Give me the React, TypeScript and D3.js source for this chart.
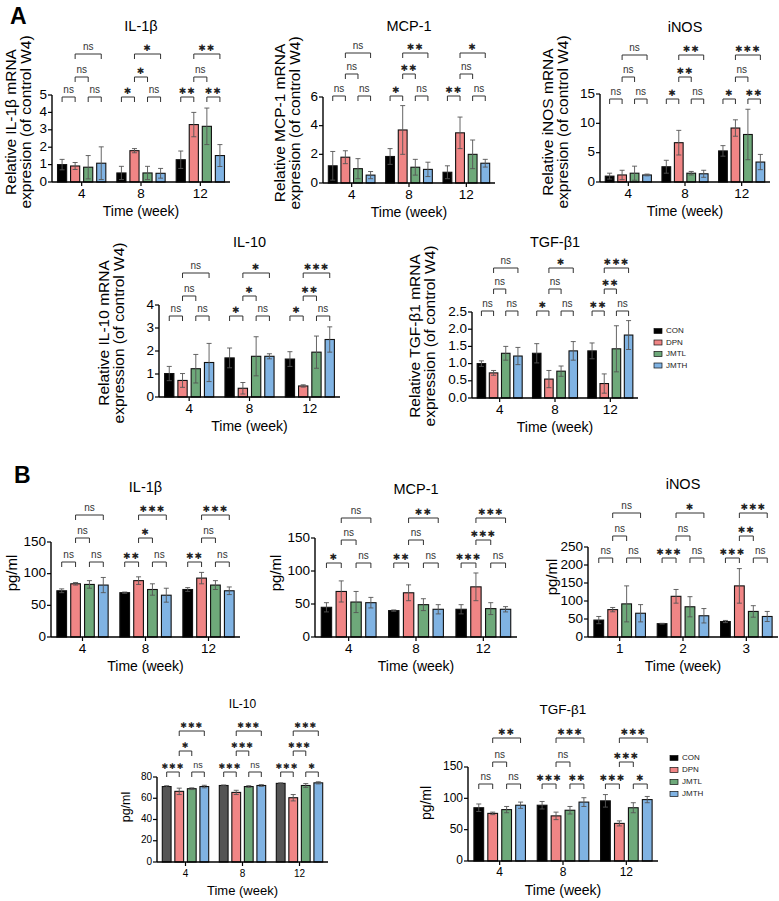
import React from "react";
import * as d3 from "d3";

const SERIES = ["CON", "DPN", "JMTL", "JMTH"];
const COLORS = ["#000000", "#F08585", "#6EA97A", "#80B3E3"];
const WEEKS = ["4", "8", "12"];
const WEEKS_B3 = ["1", "2", "3"];

// ---- Panel A (mRNA, relative to control W4) ----
const A_IL1B_MEAN = [[1.0, 0.92, 0.85, 1.08], [0.52, 1.8, 0.52, 0.5], [1.28, 3.3, 3.2, 1.52]];
const A_IL1B_SD = [[0.3, 0.2, 0.67, 0.94], [0.38, 0.12, 0.38, 0.28], [0.5, 0.7, 1.05, 0.63]];
const A_IL1B_SIG = [["ns", "ns", "ns", "ns"], ["*", "ns", "*", "*"], ["**", "**", "ns", "**"]];

const A_MCP1_MEAN = [[1.2, 1.8, 1.0, 0.55], [1.85, 3.7, 1.1, 0.95], [0.75, 3.5, 2.0, 1.38]];
const A_MCP1_SD = [[1.0, 0.45, 0.7, 0.25], [0.55, 1.7, 0.55, 0.5], [0.45, 1.1, 1.0, 0.27]];
const A_MCP1_SIG = [["ns", "ns", "ns", "ns"], ["*", "ns", "**", "**"], ["**", "ns", "ns", "*"]];

const A_INOS_MEAN = [[1.0, 1.2, 1.5, 1.2], [2.6, 6.7, 1.5, 1.4], [5.3, 9.2, 8.1, 3.4]];
const A_INOS_SD = [[0.5, 0.8, 1.2, 0.15], [1.1, 2.1, 0.3, 0.6], [0.9, 1.4, 4.3, 1.3]];
const A_INOS_SIG = [["ns", "ns", "ns", "ns"], ["*", "ns", "**", "**"], ["*", "**", "ns", "***"]];

const A_IL10_MEAN = [[1.02, 0.72, 1.23, 1.5], [1.7, 0.38, 1.77, 1.77], [1.65, 0.48, 1.95, 2.5]];
const A_IL10_SD = [[0.31, 0.3, 0.62, 0.83], [0.43, 0.25, 0.85, 0.11], [0.32, 0.05, 0.7, 0.55]];
const A_IL10_SIG = [["ns", "ns", "ns", "ns"], ["*", "ns", "*", "*"], ["*", "ns", "**", "***"]];

const A_TGF_MEAN = [[1.0, 0.73, 1.3, 1.22], [1.3, 0.55, 0.78, 1.37], [1.37, 0.42, 1.43, 1.83]];
const A_TGF_SD = [[0.08, 0.07, 0.2, 0.25], [0.28, 0.25, 0.15, 0.27], [0.23, 0.28, 0.67, 0.42]];
const A_TGF_SIG = [["ns", "ns", "ns", "ns"], ["*", "ns", "ns", "*"], ["**", "ns", "**", "***"]];

// ---- Panel B (pg/ml) ----
const B_IL1B_MEAN = [[73, 84, 83, 82], [70, 89, 75, 66], [75, 93, 82, 73]];
const B_IL1B_SD = [[3, 2, 6, 12], [1, 6, 9, 11], [3, 9, 7, 6]];
const B_IL1B_SIG = [["ns", "ns", "ns", "ns"], ["**", "ns", "*", "***"], ["**", "ns", "ns", "***"]];

const B_MCP1_MEAN = [[45, 69, 53, 52], [40, 67, 49, 42], [42, 76, 43, 42]];
const B_MCP1_SD = [[7, 16, 16, 8], [1, 12, 9, 7], [7, 21, 9, 4]];
const B_MCP1_SIG = [["*", "ns", "ns", "ns"], ["**", "ns", "ns", "**"], ["***", "ns", "***", "***"]];

const B_INOS_MEAN = [[47, 76, 92, 66], [37, 113, 84, 59], [43, 142, 71, 57]];
const B_INOS_SD = [[10, 6, 50, 24], [1, 19, 28, 20], [3, 48, 16, 14]];
const B_INOS_SIG = [["ns", "ns", "ns", "ns"], ["***", "ns", "ns", "*"], ["***", "ns", "**", "***"]];

const B_IL10_MEAN = [[71, 66.5, 69, 71], [72, 65.5, 71, 72], [74, 60.5, 72, 74.5]];
const B_IL10_SD = [[0.8, 3, 0.8, 1.2], [0.5, 2, 0.8, 0.8], [0.5, 3, 1.8, 1]];
const B_IL10_SIG = [["***", "ns", "*", "***"], ["***", "ns", "***", "***"], ["***", "*", "***", "***"]];

const B_TGF_MEAN = [[85, 76, 82, 89], [89, 72, 81, 94], [96, 60, 85, 98]];
const B_TGF_SD = [[6, 2, 5, 5], [6, 6, 6, 7], [10, 4, 8, 5]];
const B_TGF_SIG = [["ns", "ns", "ns", "**"], ["***", "**", "ns", "***"], ["***", "*", "***", "***"]];

const FONT = "'Liberation Sans', Arial, Helvetica, sans-serif";

type Cfg = {
  title: string;
  groups: string[];
  mean: number[][];
  sd: number[][];
  sig: string[][];
  max: number;
  ticks: number[];
  fmt?: (v: number) => string;
  left: number;
  right: number;
  top: number;
  bottom: number;
  titleY: number;
  ylabel: string[];
  ylabelX: number[];
  ylabelY: number;
  levels: number[];
  fs: { tick: number; title: number; ylab: number; time: number; ns: number; star: number };
  conColor?: string;
};

function SigLabel({ x, y, text, fs }: { x: number; y: number; text: string; fs: Cfg["fs"] }) {
  if (text === "ns") {
    return (
      <text x={x} y={y} textAnchor="middle" fontSize={fs.ns} fill="#333" fontFamily={FONT}>
        ns
      </text>
    );
  }
  return (
    <text x={x} y={y + 1} textAnchor="middle" fontSize={fs.star} fill="#222" fontFamily="'DejaVu Sans', sans-serif" letterSpacing={1}>
      {text.replace(/\*/g, "\u2731")}
    </text>
  );
}

function Panel({ c }: { c: Cfg }) {
  const x0 = d3.scaleBand<string>().domain(c.groups).range([c.left, c.right]).paddingInner(0.12).paddingOuter(0.06);
  const x1 = d3.scaleBand<string>().domain(SERIES).range([0, x0.bandwidth()]).paddingInner(0.3).paddingOuter(0.15);
  const y = d3.scaleLinear().domain([0, c.max]).range([c.bottom, c.top]);
  const fmt = c.fmt || ((v: number) => String(v));
  const bw = x1.bandwidth();
  const cx = (g: string, s: string) => (x0(g) as number) + (x1(s) as number) + bw / 2;
  const midX = (c.left + c.right) / 2;
  const pairs: [number, number][] = [[0, 1], [2, 3], [1, 2], [1, 3]];
  const lvl = [0, 0, 1, 2];
  return (
    <g>
      <text x={midX} y={c.titleY} textAnchor="middle" dominantBaseline="middle" fontSize={c.fs.title} fontFamily={FONT}>
        {c.title}
      </text>
      {c.ylabel.map((l, i) => (
        <text
          key={i}
          transform={`translate(${c.ylabelX[i]},${c.ylabelY}) rotate(-90)`}
          textAnchor="middle"
          dominantBaseline="middle"
          fontSize={c.fs.ylab}
          fontFamily={FONT}
        >
          {l}
        </text>
      ))}
      {c.groups.map((g, gi) =>
        SERIES.map((s, si) => {
          const m = c.mean[gi][si];
          const sd = c.sd[gi][si];
          const xc = cx(g, s);
          const fill = si === 0 && c.conColor ? c.conColor : COLORS[si];
          return (
            <g key={g + s}>
              <rect x={xc - bw / 2} y={y(m)} width={bw} height={y(0) - y(m)} fill={fill} stroke="#111" strokeWidth={1.1} />
              <line x1={xc} x2={xc} y1={y(Math.max(0, m - sd))} y2={y(m + sd)} stroke="#555" strokeWidth={0.9} />
              <line x1={xc - 2.5} x2={xc + 2.5} y1={y(m + sd)} y2={y(m + sd)} stroke="#555" strokeWidth={0.9} />
              <line x1={xc - 2.5} x2={xc + 2.5} y1={y(Math.max(0, m - sd))} y2={y(Math.max(0, m - sd))} stroke="#555" strokeWidth={0.9} />
            </g>
          );
        })
      )}
      {/* axes */}
      <line x1={c.left} x2={c.left} y1={c.top} y2={c.bottom} stroke="#000" strokeWidth={1.4} />
      <line x1={c.left} x2={c.right} y1={c.bottom} y2={c.bottom} stroke="#000" strokeWidth={1.4} />
      {c.ticks.map((t) => (
        <g key={t}>
          <line x1={c.left - 4} x2={c.left} y1={y(t)} y2={y(t)} stroke="#000" strokeWidth={1.2} />
          <text x={c.left - 5} y={y(t)} textAnchor="end" dominantBaseline="middle" fontSize={c.fs.tick} fontFamily={FONT}>
            {fmt(t)}
          </text>
        </g>
      ))}
      {c.groups.map((g) => {
        const gx = (x0(g) as number) + x0.bandwidth() / 2;
        return (
          <g key={g}>
            <line x1={gx} x2={gx} y1={c.bottom} y2={c.bottom + 4} stroke="#000" strokeWidth={1.2} />
            <text x={gx} y={c.bottom + 12} textAnchor="middle" dominantBaseline="middle" fontSize={c.fs.tick} fontFamily={FONT}>
              {g}
            </text>
          </g>
        );
      })}
      <text x={midX} y={c.bottom + 30} textAnchor="middle" dominantBaseline="middle" fontSize={c.fs.time} fontFamily={FONT}>
        Time (week)
      </text>
      {/* significance brackets */}
      {c.groups.map((g, gi) =>
        pairs.map(([a, b], pi) => {
          const xa = cx(g, SERIES[a]);
          const xb = cx(g, SERIES[b]);
          const ly = c.levels[lvl[pi]];
          return (
            <g key={g + pi}>
              <path d={`M${xa},${ly + 5}V${ly}H${xb}V${ly + 5}`} fill="none" stroke="#333" strokeWidth={1} />
              <SigLabel x={(xa + xb) / 2} y={ly - 4} text={c.sig[gi][pi]} fs={c.fs} />
            </g>
          );
        })
      )}
    </g>
  );
}

function Legend({ x, y, step, fs }: { x: number; y: number; step: number; fs: number }) {
  return (
    <g>
      {SERIES.map((s, i) => (
        <g key={s}>
          <rect x={x} y={y + i * step - 2.5} width={8} height={5} fill={COLORS[i]} stroke="#111" strokeWidth={0.7} />
          <text x={x + 12} y={y + i * step} dominantBaseline="middle" fontSize={fs} fontFamily={FONT} fill="#222">
            {s}
          </text>
        </g>
      ))}
    </g>
  );
}

const fsA = { tick: 13.5, title: 14.5, ylab: 15.5, time: 14, ns: 10, star: 9 };
const fsB = { tick: 13.5, title: 14.5, ylab: 15, time: 14, ns: 10, star: 9 };
const fsB4 = { tick: 10, title: 12, ylab: 12.5, time: 13, ns: 9, star: 8 };
const fsB5 = { tick: 12, title: 13.5, ylab: 14, time: 14, ns: 10, star: 9 };
const dec1 = (v: number) => v.toFixed(1);

const PANELS: Cfg[] = [
  {
    title: "IL-1\u03b2", groups: WEEKS, mean: A_IL1B_MEAN, sd: A_IL1B_SD, sig: A_IL1B_SIG, max: 5, ticks: [0, 1, 2, 3, 4, 5],
    left: 52, right: 230, top: 95, bottom: 182, titleY: 27,
    ylabel: ["Relative IL-1\u03b2 mRNA", "expresion (of control W4)"], ylabelX: [12, 27], ylabelY: 122,
    levels: [97, 77, 54], fs: fsA,
  },
  {
    title: "MCP-1", groups: WEEKS, mean: A_MCP1_MEAN, sd: A_MCP1_SD, sig: A_MCP1_SIG, max: 6, ticks: [0, 2, 4, 6],
    left: 323, right: 495, top: 97, bottom: 183, titleY: 27,
    ylabel: ["Relative MCP-1 mRNA", "expresion (of control W4)"], ylabelX: [281, 296], ylabelY: 123,
    levels: [96, 74, 53], fs: fsA,
  },
  {
    title: "iNOS", groups: WEEKS, mean: A_INOS_MEAN, sd: A_INOS_SD, sig: A_INOS_SIG, max: 15, ticks: [0, 5, 10, 15],
    left: 600, right: 770, top: 94, bottom: 182, titleY: 28,
    ylabel: ["Relative iNOS mRNA", "expresion (of control W4)"], ylabelX: [549, 564], ylabelY: 122,
    levels: [99, 77, 55], fs: fsA,
  },
  {
    title: "IL-10", groups: WEEKS, mean: A_IL10_MEAN, sd: A_IL10_SD, sig: A_IL10_SIG, max: 4, ticks: [0, 1, 2, 3, 4],
    left: 159, right: 340, top: 305, bottom: 397, titleY: 243,
    ylabel: ["Relative IL-10 mRNA", "expression (of control W4)"], ylabelX: [105, 120], ylabelY: 333,
    levels: [316, 296, 273], fs: fsA,
  },
  {
    title: "TGF-\u03b21", groups: WEEKS, mean: A_TGF_MEAN, sd: A_TGF_SD, sig: A_TGF_SIG, max: 2.5, ticks: [0, 0.5, 1, 1.5, 2, 2.5], fmt: dec1,
    left: 472, right: 638, top: 312, bottom: 398, titleY: 243,
    ylabel: ["Relative TGF-\u03b21 mRNA", "expression (of control W4)"], ylabelX: [416, 431], ylabelY: 336,
    levels: [311, 289, 268], fs: fsA,
  },
  {
    title: "IL-1\u03b2", groups: WEEKS, mean: B_IL1B_MEAN, sd: B_IL1B_SD, sig: B_IL1B_SIG, max: 150, ticks: [0, 50, 100, 150],
    left: 51, right: 240, top: 542, bottom: 637, titleY: 488,
    ylabel: ["pg/ml"], ylabelX: [13], ylabelY: 573,
    levels: [562, 538, 515], fs: fsB,
  },
  {
    title: "MCP-1", groups: WEEKS, mean: B_MCP1_MEAN, sd: B_MCP1_SD, sig: B_MCP1_SIG, max: 150, ticks: [0, 50, 100, 150],
    left: 315, right: 517, top: 538, bottom: 637, titleY: 490,
    ylabel: ["pg/ml"], ylabelX: [277], ylabelY: 573,
    levels: [563, 540, 518], fs: fsB,
  },
  {
    title: "iNOS", groups: WEEKS_B3, mean: B_INOS_MEAN, sd: B_INOS_SD, sig: B_INOS_SIG, max: 250, ticks: [0, 50, 100, 150, 200, 250],
    left: 588, right: 778, top: 547, bottom: 637, titleY: 485,
    ylabel: ["pg/ml"], ylabelX: [553], ylabelY: 577,
    levels: [558, 536, 513], fs: fsB,
  },
  {
    title: "IL-10", groups: WEEKS, mean: B_IL10_MEAN, sd: B_IL10_SD, sig: B_IL10_SIG, max: 80, ticks: [0, 20, 40, 60, 80],
    left: 157, right: 328, top: 777, bottom: 862, titleY: 705,
    ylabel: ["pg/ml"], ylabelX: [127], ylabelY: 807,
    levels: [772, 751, 731], fs: fsB4, conColor: "#555555",
  },
  {
    title: "TGF-\u03b21", groups: WEEKS, mean: B_TGF_MEAN, sd: B_TGF_SD, sig: B_TGF_SIG, max: 150, ticks: [0, 50, 100, 150],
    left: 468, right: 658, top: 767, bottom: 861, titleY: 710,
    ylabel: ["pg/ml"], ylabelX: [427], ylabelY: 803,
    levels: [784, 762, 738], fs: fsB5,
  },
];

export default function App() {
  return (
    <svg width={779} height={901} style={{ position: "absolute", left: 0, top: 0, background: "#fff" }}>
      <rect width={779} height={901} fill="#fff" />
      <text x={10} y={24} fontSize={23} fontWeight="bold" fontFamily={FONT}>A</text>
      <text x={14} y={483} fontSize={23} fontWeight="bold" fontFamily={FONT}>B</text>
      {PANELS.map((c, i) => (
        <Panel key={i} c={c} />
      ))}
      <Legend x={654} y={331} step={11.5} fs={8} />
      <Legend x={670} y={758} step={12} fs={8} />
    </svg>
  );
}
